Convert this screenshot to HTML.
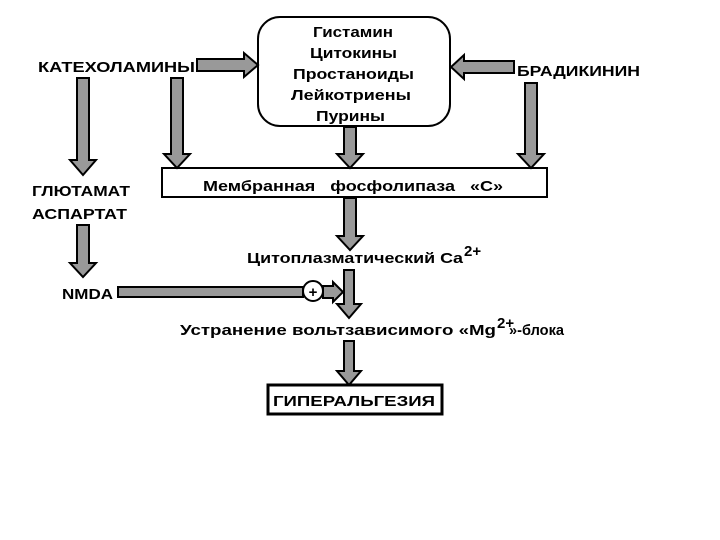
<!DOCTYPE html>
<html><head><meta charset="utf-8"><style>
html,body{margin:0;padding:0;background:#fff;width:720px;height:540px;overflow:hidden}
text{font-family:"Liberation Sans",sans-serif;font-weight:bold;font-size:15px;fill:#000}
.a{fill:#999;stroke:#000;stroke-width:2;stroke-linejoin:miter}
</style></head><body>
<svg width="720" height="540" viewBox="0 0 720 540" xmlns="http://www.w3.org/2000/svg">
<rect x="258" y="17" width="192" height="109" rx="22" fill="#fff" stroke="#000" stroke-width="2"/>
<text x="313" y="37" textLength="80" lengthAdjust="spacingAndGlyphs">Гистамин</text>
<text x="310" y="58" textLength="87" lengthAdjust="spacingAndGlyphs">Цитокины</text>
<text x="293" y="79" textLength="121" lengthAdjust="spacingAndGlyphs">Простаноиды</text>
<text x="291" y="100" textLength="120" lengthAdjust="spacingAndGlyphs">Лейкотриены</text>
<text x="316" y="121" textLength="69" lengthAdjust="spacingAndGlyphs">Пурины</text>
<rect x="162" y="168" width="385" height="29" fill="#fff" stroke="#000" stroke-width="2"/>
<text x="203" y="191" textLength="300" lengthAdjust="spacingAndGlyphs" xml:space="preserve">Мембранная   фосфолипаза   «С»</text>
<rect x="268" y="385" width="174" height="29" fill="#fff" stroke="#000" stroke-width="3"/>
<text x="273" y="406" textLength="162" lengthAdjust="spacingAndGlyphs">ГИПЕРАЛЬГЕЗИЯ</text>

<text x="38" y="72" textLength="157" lengthAdjust="spacingAndGlyphs">КАТЕХОЛАМИНЫ</text>
<text x="517" y="76" textLength="123" lengthAdjust="spacingAndGlyphs">БРАДИКИНИН</text>
<text x="32" y="196" textLength="98" lengthAdjust="spacingAndGlyphs">ГЛЮТАМАТ</text>
<text x="32" y="219" textLength="95" lengthAdjust="spacingAndGlyphs">АСПАРТАТ</text>
<text x="62" y="299" textLength="51" lengthAdjust="spacingAndGlyphs">NMDA</text>
<text x="247" y="263" textLength="216" lengthAdjust="spacingAndGlyphs">Цитоплазматический Ca</text>
<text x="464" y="256" font-size="8">2+</text>
<text x="180" y="335" textLength="316" lengthAdjust="spacingAndGlyphs">Устранение вольтзависимого «Mg</text>
<text x="497" y="328" font-size="8">2+</text>
<text x="509" y="335" textLength="55" lengthAdjust="spacingAndGlyphs">»-блока</text>

<path class="a" d="M197,59 H244 V53 L258,65 L244,77 V71 H197 Z"/>
<path class="a" d="M514,61 H464 V55 L451,67 L464,79 V73 H514 Z"/>
<path class="a" d="M118,287 H303 V297 H118 Z"/>
<path class="a" d="M323,286 H333 V282 L343,292 L333,302 V298 H323 Z"/>
<circle cx="313" cy="291" r="10" fill="#fff" stroke="#000" stroke-width="2"/>
<text x="313" y="297" text-anchor="middle" font-size="15">+</text>

<path class="a" d="M77,78 H89 V160 H96 L83,175 L70,160 H77 Z"/>
<path class="a" d="M171,78 H183 V154 H190 L177,168 L164,154 H171 Z"/>
<path class="a" d="M344,127 H356 V154 H363 L350,168 L337,154 H344 Z"/>
<path class="a" d="M525,83 H537 V154 H544 L531,168 L518,154 H525 Z"/>
<path class="a" d="M344,198 H356 V236 H363 L350,250 L337,236 H344 Z"/>
<path class="a" d="M77,225 H89 V263 H96 L83,277 L70,263 H77 Z"/>
<path class="a" d="M344,270 H354 V304 H361 L349,318 L337,304 H344 Z"/>
<path class="a" d="M344,341 H354 V371 H361 L349,385 L337,371 H344 Z"/>
</svg>
</body></html>
